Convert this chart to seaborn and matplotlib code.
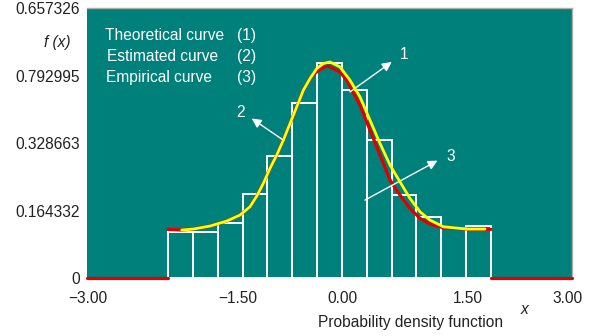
import numpy as np
import pandas as pd
import matplotlib
matplotlib.use("Agg")
import matplotlib.pyplot as plt
import seaborn as sns

# ---- data ----
bin_edges = [-2.0, -1.692, -1.385, -1.077, -0.769, -0.462, -0.154,
             0.154, 0.462, 0.769, 1.077, 1.385, 1.692, 2.0]
bin_heights = [0.1127, 0.1127, 0.1339, 0.2045, 0.2970, 0.4268, 0.5242,
               0.4589, 0.3360, 0.2021, 0.1478, 0.1210, 0.1273]

# theoretical curve: zero outside [-2, 2] (segments 0 and 2), curve inside (segment 1)
theo_x = [-3.0, -2.0,
          -2.0, -1.831, -1.687, -1.48, -1.273, -1.109, -0.985, -0.90,
          -0.82, -0.737, -0.654, -0.572, -0.489, -0.406, -0.324, -0.241, -0.158,
          -0.077, -0.018, 0.13, 0.213, 0.378, 0.502, 0.626, 0.75, 0.873, 0.997,
          1.121, 1.245, 1.41, 1.70, 2.0,
          2.0, 3.0]
theo_y = [0.0, 0.0,
          0.1186, 0.1169, 0.1193, 0.1266, 0.1388, 0.1534, 0.1736, 0.2000,
          0.2305, 0.2671, 0.2994, 0.3360, 0.3766, 0.4170, 0.4577, 0.4860, 0.5030,
          0.5130, 0.5168, 0.5023, 0.4820, 0.4212, 0.3603, 0.2994, 0.2386, 0.2021,
          0.1697, 0.1453, 0.1315, 0.1225, 0.1193, 0.1186,
          0.0, 0.0]
theo_seg = [0, 0] + [1] * 32 + [2, 2]

est_x = [-1.831, -1.687, -1.48, -1.273, -1.109, -0.985, -0.90, -0.82, -0.737,
         -0.654, -0.572, -0.489, -0.406, -0.324, -0.241, -0.158, -0.077, 0.006,
         0.13, 0.254, 0.378, 0.502, 0.626, 0.75, 0.873, 0.997, 1.121, 1.245,
         1.41, 1.70, 1.926]
est_y = [0.1169, 0.1193, 0.1266, 0.1388, 0.1534, 0.1736, 0.2000, 0.2305, 0.2671,
         0.2994, 0.3360, 0.3766, 0.4170, 0.4577, 0.4862, 0.5105, 0.5227, 0.5266,
         0.5144, 0.4820, 0.4414, 0.3847, 0.3279, 0.2751, 0.2344, 0.1940, 0.1614,
         0.1412, 0.1249, 0.1193, 0.1193]

y_ticks = [0.0, 0.164332, 0.328663, 0.492995, 0.657326]
y_tick_labels = ["0", "0.164332", "0.328663", "0.792995", "0.657326"]
x_tick_labels = ["\u22123.00", "\u22121.50", "0.00", "1.50", "3.00"]
legend_names = ["Theoretical curve", "Estimated curve", "Empirical curve"]
legend_nums = ["(1)", "(2)", "(3)"]

# ---- plotting ----
sns.set_theme(style="white")
plt.rcParams["font.family"] = ["Liberation Sans", "DejaVu Sans"]

FS = 11.2
TEAL = "#00807b"

fig = plt.figure(figsize=(5.93, 3.36), dpi=100)
ax = fig.add_axes([0.1472, 0.1726, 0.8169, 0.8027])
ax.set_facecolor(TEAL)

centers = [(a + b) / 2 for a, b in zip(bin_edges[:-1], bin_edges[1:])]
hist_df = pd.DataFrame({"x": centers, "w": bin_heights})
sns.histplot(data=hist_df, x="x", weights="w", bins=bin_edges, stat="count",
             fill=False, element="bars", color="white", linewidth=1.4, ax=ax)

theo_df = pd.DataFrame({"x": theo_x, "y": theo_y, "seg": theo_seg})
sns.lineplot(data=theo_df, x="x", y="y", units="seg", sort=False, estimator=None,
             color="#e00000", linewidth=2.3, ax=ax, zorder=3)
for ln in ax.lines:
    ln.set_clip_on(False)
sns.lineplot(x=est_x, y=est_y, sort=False, estimator=None, color="#ffff00",
             linewidth=2.0, ax=ax, zorder=4)

ax.set_xlim(-3, 3)
ax.set_ylim(0, 0.657326)

# tick labels placed where they appear in the reference
ax.set_xticks([-2.99, -1.133, 0.162, 1.719, 2.946])
ax.set_xticklabels(x_tick_labels, fontsize=FS, color="#222222")
ax.set_yticks(y_ticks)
ax.set_yticklabels(y_tick_labels, fontsize=FS, color="#222222")
ax.tick_params(axis="x", length=0, pad=9.5)
ax.tick_params(axis="y", length=0, pad=5)
ax.set_xlabel("")
ax.set_ylabel("")

for side in ["left", "bottom"]:
    ax.spines[side].set_visible(False)
for side in ["top", "right"]:
    ax.spines[side].set_visible(True)
    ax.spines[side].set_color("#b5aea5")
    ax.spines[side].set_linewidth(1.0)

# legend-like text block
rows_y = [0.5916, 0.5388, 0.4894]
names_x = [-2.781, -2.756, -2.77]
for name, num, yy, xx in zip(legend_names, legend_nums, rows_y, names_x):
    ax.text(xx, yy, name, color="white", fontsize=FS, va="center", ha="left")
    ax.text(-1.146, yy, num, color="white", fontsize=FS, va="center", ha="left")

arrow = dict(arrowstyle="-|>", color="white", lw=1.0, mutation_scale=14,
             shrinkA=0, shrinkB=0)
ax.annotate("", xy=(0.771, 0.5266), xytext=(0.254, 0.4536), arrowprops=arrow)
ax.text(0.873, 0.5453, "1", color="white", fontsize=FS, va="center", ha="left")
ax.annotate("", xy=(-0.964, 0.3888), xytext=(-0.572, 0.3360), arrowprops=arrow)
ax.text(-1.10, 0.4024, "2", color="white", fontsize=FS, va="center", ha="center")
ax.annotate("", xy=(1.338, 0.2861), xytext=(0.439, 0.1899), arrowprops=arrow)
ax.text(1.452, 0.2953, "3", color="white", fontsize=FS, va="center", ha="left")

# axis captions
fig.text(57 / 593, 1 - 43 / 336, "f (x)", fontsize=FS, style="italic",
         ha="center", va="center", color="#222222")
fig.text(525 / 593, 1 - 310 / 336, "x", fontsize=FS, style="italic",
         ha="center", va="center", color="#222222")
fig.text(410.5 / 593, 1 - 323 / 336, "Probability density function", fontsize=FS,
         ha="center", va="center", color="#222222")

fig.savefig("out.png", dpi=100)
